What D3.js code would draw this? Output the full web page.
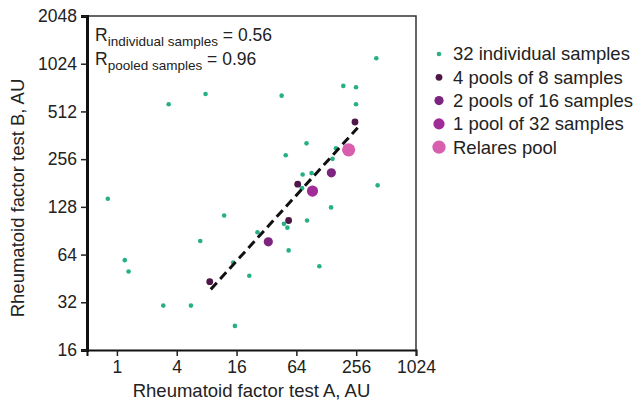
<!DOCTYPE html>
<html>
<head>
<meta charset="utf-8">
<script src="https://cdn.jsdelivr.net/npm/d3@7"></script>
<style>
  body { margin: 0; background: #fff; }
  svg { font-family: "Liberation Sans", Arial, sans-serif; }
</style>
</head>
<body>
<svg id="chart" width="637" height="403"></svg>
<script>
// individual samples [test A, test B]
const individual = [
  [0.81, 144], [1.2, 59], [1.31, 50], [2.93, 30.5], [5.56, 30.5],
  [3.32, 568], [7.8, 660], [6.9, 78], [12, 113], [15.4, 22.7],
  [14.8, 57], [21.5, 47], [26, 88.5], [45.5, 644], [50, 271],
  [48, 100], [52, 94.6], [53.5, 68], [81, 322], [74, 205],
  [91, 209], [73, 168], [82, 105], [143, 127], [109, 54],
  [160, 300], [148, 257], [190, 742], [255, 728], [255, 568],
  [408, 1109], [421, 175]
];
const pools8 = [[8.6, 43.2], [53.5, 105], [66, 178], [249, 439]];
const pools16 = [[33.4, 77], [144, 210]];
const pool32 = [[93, 161]];
const relares = [[215, 293]];
const fitLine = [[8.8, 38.6], [265, 404]];

const xTicks = [1, 4, 16, 64, 256, 1024];
const yTicks = [16, 32, 64, 128, 256, 512, 1024, 2048];

const series = [
  { name: "32 individual samples", data: individual, r: 2.3, color: "#27b088" },
  { name: "4 pools of 8 samples", data: pools8, r: 3.4, color: "#4f1748" },
  { name: "2 pools of 16 samples", data: pools16, r: 4.6, color: "#7d2380" },
  { name: "1 pool of 32 samples", data: pool32, r: 5.6, color: "#a02c98" },
  { name: "Relares pool", data: relares, r: 6.6, color: "#d85eae" }
];

const svg = d3.select("#chart");
const mLeft = 87, mRight = 416, mTop = 16, mBottom = 350;

const x = d3.scaleLog().base(2).domain([0.5, 1024]).range([mLeft, mRight]);
const y = d3.scaleLog().base(2).domain([16, 2048]).range([mBottom, mTop]);

// frame (top & right)
svg.append("path")
  .attr("d", `M${mLeft},${mTop}H${mRight}V${mBottom}`)
  .attr("fill", "none")
  .attr("stroke", "#333")
  .attr("stroke-width", 1.5);

// axes
const xAxis = svg.append("g")
  .attr("transform", `translate(0,${mBottom})`)
  .call(d3.axisBottom(x).tickValues(xTicks).tickFormat(d3.format("d")).tickSize(6).tickPadding(3));
const yAxis = svg.append("g")
  .attr("transform", `translate(${mLeft},0)`)
  .call(d3.axisLeft(y).tickValues(yTicks).tickFormat(d3.format("d")).tickSize(6).tickPadding(4));

[xAxis, yAxis].forEach(g => {
  g.select(".domain").attr("stroke", "#111");
  g.selectAll(".tick line").attr("stroke", "#222").attr("stroke-width", 1.5);
  g.selectAll("text").attr("font-size", 17.5).attr("fill", "#222")
    .attr("font-family", "Liberation Sans, Arial, sans-serif");
});
xAxis.select(".domain").attr("stroke-width", 2);
yAxis.select(".domain").attr("stroke-width", 3);
xAxis.selectAll("text").attr("dy", "0.78em");

// axis titles
svg.append("text")
  .attr("x", (mLeft + mRight) / 2)
  .attr("y", 397)
  .attr("text-anchor", "middle")
  .attr("font-size", 18.5)
  .attr("fill", "#222")
  .text("Rheumatoid factor test A, AU");

svg.append("text")
  .attr("transform", `translate(24,${(mTop + mBottom) / 2 + 15}) rotate(-90)`)
  .attr("text-anchor", "middle")
  .attr("font-size", 18.5)
  .attr("fill", "#222")
  .text("Rheumatoid factor test B, AU");

// points
series.forEach(s => {
  svg.append("g")
    .selectAll("circle")
    .data(s.data)
    .join("circle")
    .attr("cx", d => x(d[0]))
    .attr("cy", d => y(d[1]))
    .attr("r", s.r)
    .attr("fill", s.color);
});

// dashed fit line
svg.append("line")
  .attr("x1", x(fitLine[0][0])).attr("y1", y(fitLine[0][1]))
  .attr("x2", x(fitLine[1][0])).attr("y2", y(fitLine[1][1]))
  .attr("stroke", "#111")
  .attr("stroke-width", 3)
  .attr("stroke-dasharray", "9,5");

// correlation annotation
const ann = [
  { sub: "individual samples", val: "0.56", y: 41 },
  { sub: "pooled samples", val: "0.96", y: 65 }
];
ann.forEach(a => {
  const t = svg.append("text")
    .attr("x", 95).attr("y", a.y)
    .attr("font-size", 17.5).attr("fill", "#222");
  t.append("tspan").text("R");
  t.append("tspan").attr("font-size", 13.5).attr("dy", 5).text(a.sub);
  t.append("tspan").attr("dy", -5).text(` = ${a.val}`);
});

// legend
const legend = svg.append("g");
series.forEach((s, i) => {
  const ly = 54 + i * 23.3;
  legend.append("circle")
    .attr("cx", 439).attr("cy", ly)
    .attr("r", s.r)
    .attr("fill", s.color);
  legend.append("text")
    .attr("x", 453).attr("y", ly)
    .attr("dy", "0.35em")
    .attr("font-size", 18.5)
    .attr("fill", "#222")
    .text(s.name);
});
</script>
</body>
</html>
